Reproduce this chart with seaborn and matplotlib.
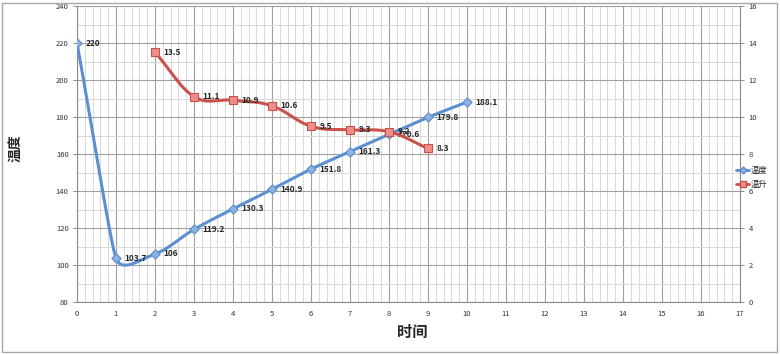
import numpy as np
import pandas as pd
import matplotlib
matplotlib.use("Agg")
import matplotlib.pyplot as plt
from matplotlib.lines import Line2D
from matplotlib.patches import Rectangle
from matplotlib.ticker import MultipleLocator
import seaborn as sns

# data
t_temp = [0, 1, 2, 3, 4, 5, 6, 7, 8, 9, 10]
temp = [220, 103.7, 106, 119.2, 130.3, 140.9, 151.8, 161.3, 170.6, 179.8, 188.1]
t_rise = [2, 3, 4, 5, 6, 7, 8, 9]
rise = [13.5, 11.1, 10.9, 10.6, 9.5, 9.3, 9.2, 8.3]

blue = "#5B8FD0"
red = "#C9504B"


def smooth(x, y, yscale, s=0.42, n=30):
    # excel-like smoothed line: bezier segments, tangents in screen-ish space
    P = np.column_stack([np.asarray(x, float), np.asarray(y, float) * yscale])
    chord = np.linalg.norm(np.diff(P, axis=0), axis=1)
    out = [P[:1]]
    for i in range(len(P) - 1):
        p0 = P[max(i - 1, 0)]
        p1, p2 = P[i], P[i + 1]
        p3 = P[min(i + 2, len(P) - 1)]
        L1 = min(chord[i], chord[i - 1]) if i > 0 else chord[i]
        L2 = min(chord[i], chord[i + 1]) if i + 1 < len(chord) else chord[i]
        d1 = p2 - p0
        d2 = p3 - p1
        c1 = p1 + d1 / np.linalg.norm(d1) * L1 * s
        c2 = p2 - d2 / np.linalg.norm(d2) * L2 * s
        tt = np.linspace(0, 1, n)[1:, None]
        seg = ((1 - tt) ** 3) * p1 + 3 * ((1 - tt) ** 2) * tt * c1 \
            + 3 * (1 - tt) * tt ** 2 * c2 + tt ** 3 * p2
        out.append(seg)
    Q = np.vstack(out)
    return Q[:, 0], Q[:, 1] / yscale


sns.set_style("white")
plt.rcParams['font.family'] = ['Noto Sans CJK SC', 'DejaVu Sans']

fig = plt.figure(figsize=(7.8, 3.54), dpi=100)
ax = fig.add_axes([77 / 780, 52 / 354, 663 / 780, 296 / 354])
ax2 = ax.twinx()

# pixel scales: x 39 px/unit, left y 1.85 px/unit, right y 18.5 px/unit
sx, sy = smooth(t_temp, temp, 1.85 / 39)
sns.lineplot(x=sx, y=sy, ax=ax, color=blue, lw=2.2, sort=False, zorder=3)
sns.scatterplot(x=t_temp, y=temp, ax=ax, marker="D", s=22, color="#8DB3E2",
                edgecolor=blue, linewidth=0.8, zorder=4)

rx, ry = smooth(t_rise, rise, 18.5 / 39)
sns.lineplot(x=rx, y=ry, ax=ax2, color=red, lw=2.2, sort=False, zorder=3)
sns.scatterplot(x=t_rise, y=rise, ax=ax2, marker="s", s=40, color="#EF8E8B",
                edgecolor=red, linewidth=0.8, zorder=4)

ax.set_xlim(0, 17)
ax.set_ylim(80, 240)
ax2.set_ylim(0, 16)
ax.xaxis.set_major_locator(MultipleLocator(1))
ax.xaxis.set_minor_locator(MultipleLocator(0.2))
ax.yaxis.set_major_locator(MultipleLocator(20))
ax.yaxis.set_minor_locator(MultipleLocator(10))
ax2.yaxis.set_major_locator(MultipleLocator(2))

ax.grid(which="major", color="#a0a0a0", lw=0.8)
ax.grid(which="minor", color="#d8d8d8", lw=0.7)
ax.set_axisbelow(True)

for a in (ax, ax2):
    for sp in a.spines.values():
        sp.set_visible(False)
    a.tick_params(labelsize=5.5, colors="#333333", length=3, width=0.7, pad=3)
    a.tick_params(which="minor", length=0)
ax.spines["left"].set_visible(True)
ax.spines["bottom"].set_visible(True)
ax2.spines["right"].set_visible(True)
for sp in (ax.spines["left"], ax.spines["bottom"], ax2.spines["right"]):
    sp.set_color("#8a8a8a")
    sp.set_linewidth(0.8)
ax.tick_params(axis="both", direction="out", color="#8a8a8a")
ax2.tick_params(axis="y", direction="out", color="#8a8a8a")

for x, y in zip(t_temp, temp):
    ax.annotate(f"{y:g}", (x, y), xytext=(6, 0), textcoords="offset points",
                ha="left", va="center", fontsize=6, fontweight="bold", zorder=5)
for x, y in zip(t_rise, rise):
    ax2.annotate(f"{y:g}", (x, y), xytext=(6, 0), textcoords="offset points",
                 ha="left", va="center", fontsize=6, fontweight="bold", zorder=5)

ax.set_xlabel("时间", fontsize=11, fontweight="bold")
ax.set_ylabel("温度", fontsize=10, fontweight="bold")
ax.xaxis.set_label_coords(335 / 663, -22 / 296)
ax.yaxis.set_label_coords(-55 / 663, 0.52)
ax2.set_ylabel("")

handles = [
    Line2D([], [], color=blue, lw=2, marker="D", markersize=3.5,
           markerfacecolor="#8DB3E2", markeredgecolor=blue),
    Line2D([], [], color=red, lw=2, marker="s", markersize=4,
           markerfacecolor="#EF8E8B", markeredgecolor=red),
]
fig.legend(handles, ["温度", "温升"], loc="center left",
           bbox_to_anchor=(736 / 780, 1 - 177 / 354), frameon=False,
           fontsize=6, handlelength=1.6, handletextpad=0.2,
           labelspacing=0.6, borderaxespad=0, borderpad=0)

fig.patches.append(Rectangle((2 / 780, 2 / 354), 775 / 780, 349 / 354,
                             transform=fig.transFigure, fill=False,
                             edgecolor="#a8a8a8", lw=1))

fig.savefig("out.png", dpi=100)
